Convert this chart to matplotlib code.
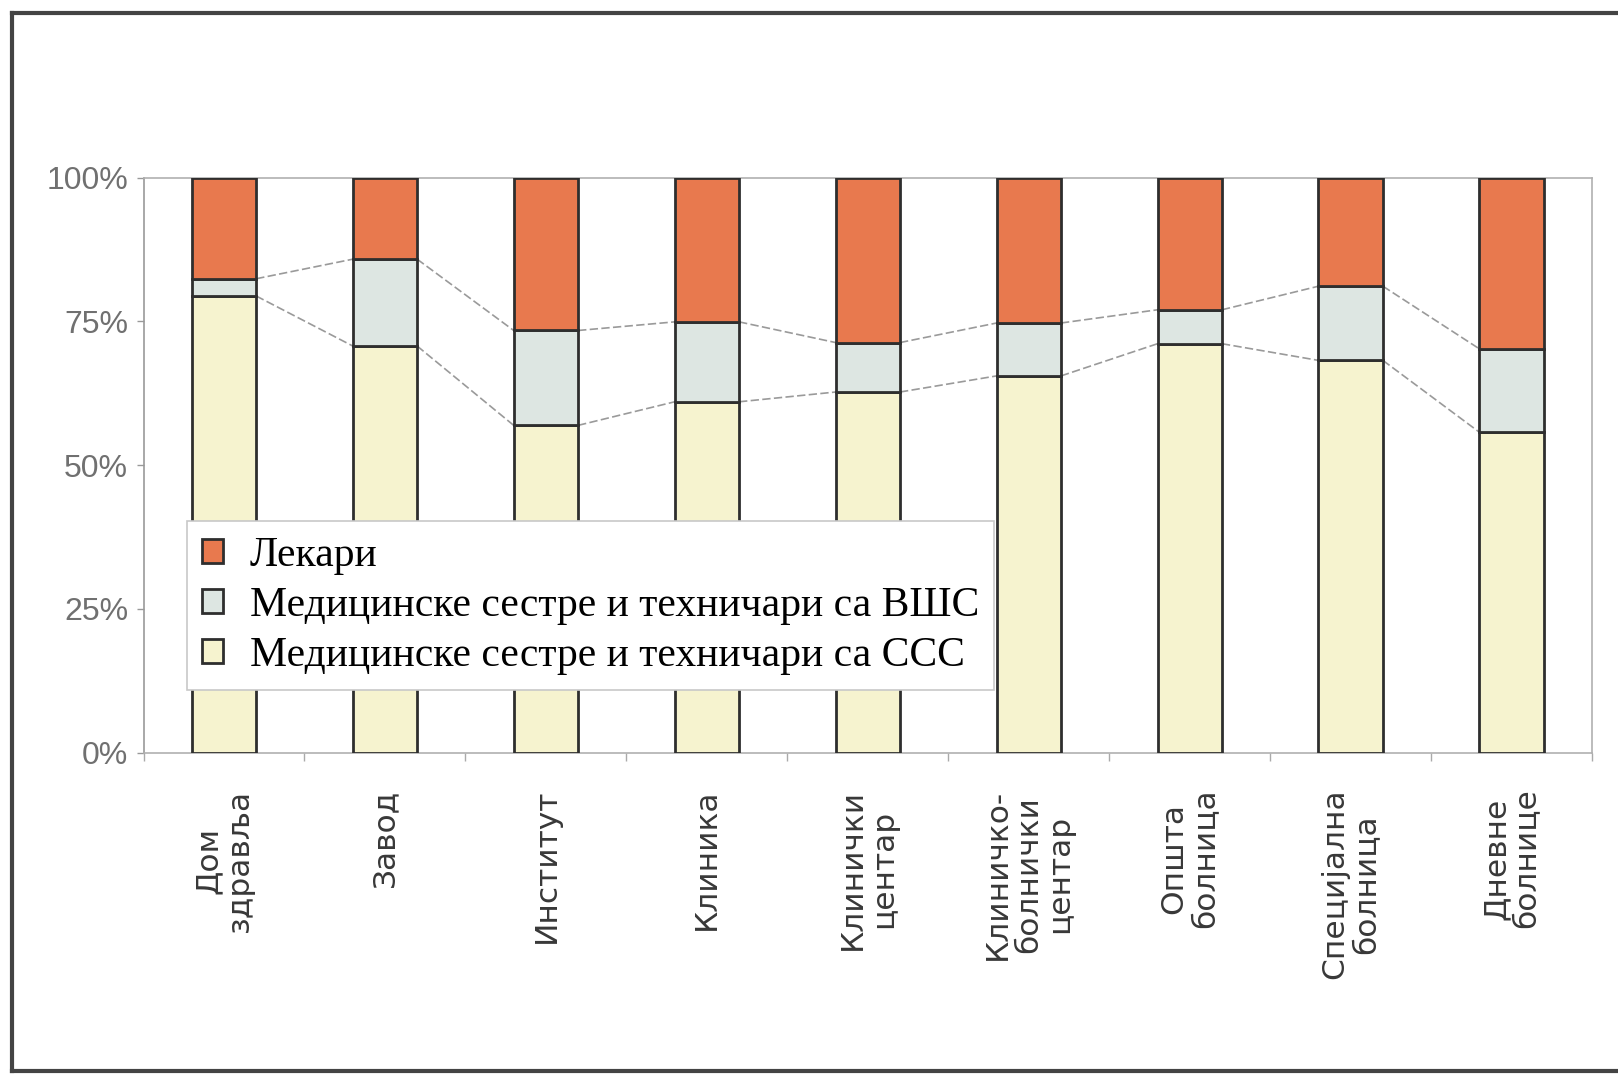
import matplotlib.pyplot as plt
from matplotlib.lines import Line2D
import numpy as np

# categories (two / three line labels as in the original)
categories = ["Дом\nздравља", "Завод", "Институт", "Клиника", "Клинички\nцентар",
              "Клиничко-\nболнички\nцентар", "Општа\nболница", "Специјална\nболница",
              "Дневне\nболнице"]

# percent shares
sss = [79.4, 70.7, 56.9, 61.0, 62.7, 65.5, 71.1, 68.2, 55.7]      # сестре ССС
vss = [3.0, 15.1, 16.5, 13.9, 8.6, 9.2, 5.9, 12.9, 14.5]          # сестре ВШС
lekari = [17.6, 14.2, 26.6, 25.1, 28.7, 25.3, 23.0, 18.9, 29.8]   # лекари

series_names = ["Лекари", "Медицинске сестре и техничари са ВШС",
                "Медицинске сестре и техничари са ССС"]
col_lek = "#E8794E"
col_vss = "#DDE6E2"
col_sss = "#F6F3CF"
edge = "#2e2e2e"

fig = plt.figure(figsize=(16.18, 10.74), dpi=100)
ax = fig.add_axes([0.0887, 0.2993, 0.8953, 0.5354])

x = np.arange(len(categories))
w = 0.40
b1 = ax.bar(x, sss, w, color=col_sss, edgecolor=edge, linewidth=2, zorder=3,
            label=series_names[2])
b2 = ax.bar(x, vss, w, bottom=sss, color=col_vss, edgecolor=edge, linewidth=2,
            zorder=3, label=series_names[1])
top2 = np.array(sss) + np.array(vss)
b3 = ax.bar(x, lekari, w, bottom=top2, color=col_lek, edgecolor=edge, linewidth=2,
            zorder=3, label=series_names[0])

# series lines between bars
for lev in (np.array(sss), top2):
    for i in range(len(x) - 1):
        ax.plot([x[i] + w / 2, x[i + 1] - w / 2], [lev[i], lev[i + 1]],
                color="#9a9a9a", lw=1.2, ls=(0, (5, 2)), zorder=2)

ax.set_xlim(-0.5, len(x) - 0.5)
ax.set_ylim(0, 100)
ax.set_yticks([0, 25, 50, 75, 100])
ax.set_yticklabels(["0%", "25%", "50%", "75%", "100%"], family="Liberation Sans",
                   fontsize=23, color="#707070")
ax.tick_params(axis="y", length=5, width=1, color="#999999", pad=6)

ax.set_xticks(x)
ax.set_xticklabels(categories, rotation=90, ha="center", va="top",
                   multialignment="center", family="DejaVu Sans", fontsize=22.5,
                   color="#383838", linespacing=1.1)
ax.tick_params(axis="x", length=0, pad=26)
ax.set_xticks(np.arange(-0.5, len(x), 1), minor=True)
ax.tick_params(axis="x", which="minor", length=6, width=1, color="#aaaaaa")

for s in ax.spines.values():
    s.set_color("#b0b0b0")
    s.set_linewidth(1.2)
ax.spines["left"].set_color("#999999")

handles = [b3, b2, b1]
leg = ax.legend(handles, series_names, loc="upper left", bbox_to_anchor=(0.030, 0.4026),
                borderaxespad=0, prop={"family": "Liberation Serif", "size": 30},
                handlelength=0.5, handleheight=0.5, handletextpad=0.65,
                labelspacing=0.28, borderpad=0.36, fancybox=False, framealpha=1)
leg.get_frame().set_edgecolor("#c8c8c8")
leg.get_frame().set_linewidth(1.2)
leg.set_zorder(5)

# outer frame of the scanned figure
fw, fh = 1618, 1074
for xs, ys in [([12, 12], [13, 1071]), ([12, 1618], [13, 13]), ([12, 1618], [1071, 1071])]:
    fig.add_artist(Line2D([v / fw for v in xs], [1 - v / fh for v in ys],
                          color="#444444", lw=3))

fig.savefig("out.png", dpi=100)
